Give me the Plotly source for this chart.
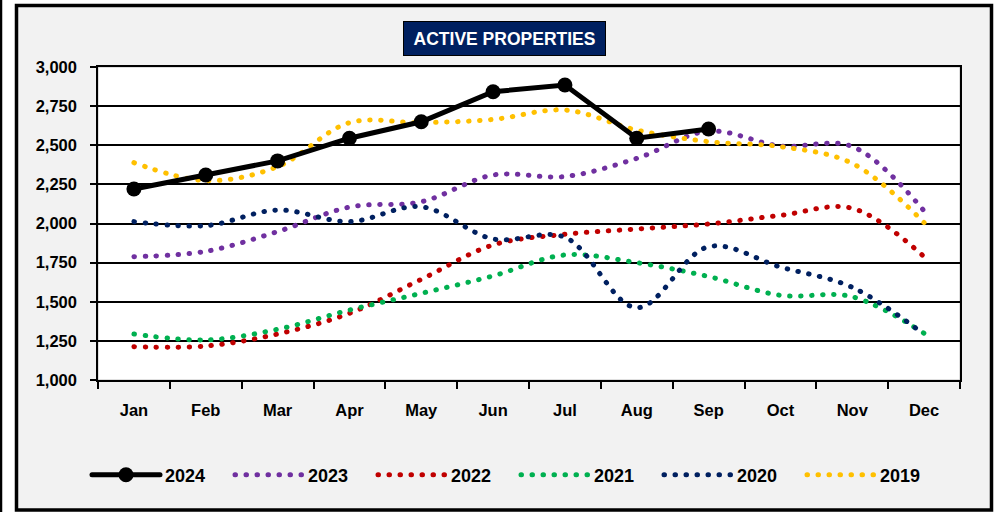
import plotly.graph_objects as go

months = ["Jan", "Feb", "Mar", "Apr", "May", "Jun", "Jul", "Aug", "Sep", "Oct", "Nov", "Dec"]
months_2024 = months[:9]

v2024 = [2220, 2310, 2400, 2545, 2650, 2842, 2885, 2545, 2604]
v2023 = [1788, 1822, 1948, 2105, 2139, 2310, 2300, 2416, 2590, 2495, 2492, 2080]
v2022 = [1213, 1217, 1294, 1426, 1643, 1863, 1931, 1965, 1997, 2052, 2097, 1788]
v2021 = [1294, 1256, 1324, 1447, 1554, 1665, 1799, 1750, 1661, 1541, 1532, 1298]
v2020 = [2012, 1986, 2086, 2012, 2107, 1901, 1912, 1462, 1852, 1722, 1592, 1292]
v2019 = [2389, 2274, 2363, 2644, 2644, 2665, 2725, 2597, 2523, 2491, 2384, 2006]

y_ticks = [1000, 1250, 1500, 1750, 2000, 2250, 2500, 2750, 3000]

W, H = 1002, 512
L, R, T, B = 98, 42, 67, 132
PW, PH = W - L - R, H - T - B


def px(x):
    return (x - L) / PW


def py(y):
    return (H - B - y) / PH


FONT = "Liberation Sans, Arial, sans-serif"
dash = "0.5px,10.5px"

fig = go.Figure()

dotted = [
    ("2023", v2023, "#7030A0", 2),
    ("2022", v2022, "#C00000", 3),
    ("2021", v2021, "#00B050", 4),
    ("2020", v2020, "#002060", 5),
    ("2019", v2019, "#FFC000", 6),
]
for name, vals, col, rank in dotted:
    fig.add_trace(go.Scatter(
        x=months, y=vals, name=name, mode="lines",
        line=dict(color=col, width=5, dash=dash, shape="spline", smoothing=1.0),
        legendrank=rank,
    ))

fig.add_trace(go.Scatter(
    x=months_2024, y=v2024, name="2024", mode="lines+markers",
    line=dict(color="black", width=5),
    marker=dict(color="black", size=15),
    legendrank=1,
))

axis_font = dict(family=FONT, size=16.5, color="black", weight="bold")

fig.update_layout(
    width=W, height=H,
    margin=dict(l=L, r=R, t=T, b=B, pad=0, autoexpand=False),
    paper_bgcolor="white",
    plot_bgcolor="white",
    showlegend=True,
    legend=dict(
        orientation="h",
        x=px(87), xanchor="left",
        y=py(475), yanchor="middle",
        font=dict(family=FONT, size=18, color="black", weight="bold"),
        bgcolor="rgba(0,0,0,0)",
        entrywidth=60, entrywidthmode="pixels",
        itemwidth=68,
    ),
    xaxis=dict(
        type="category",
        categoryorder="array", categoryarray=months,
        range=[-0.5, 11.5],
        showgrid=False,
        showline=True, linecolor="black", linewidth=1.5, mirror=True,
        ticks="outside", ticklen=7, tickcolor="black", tickwidth=1.5,
        tickson="boundaries",
        tickfont=axis_font,
        ticklabelstandoff=14,
    ),
    yaxis=dict(
        range=[1000, 3000],
        tickvals=y_ticks,
        tickformat=",",
        showgrid=True, gridcolor="black", gridwidth=1.5,
        showline=True, linecolor="black", linewidth=1.5, mirror=True,
        ticks="outside", ticklen=6, tickcolor="black", tickwidth=1.5,
        tickfont=axis_font,
        ticklabelstandoff=10,
        zeroline=False,
    ),
    shapes=[
        dict(type="rect", xref="paper", yref="paper", layer="below",
             x0=px(16.5), x1=px(991.5), y0=py(5.5), y1=py(510),
             fillcolor="#F2F2F2", line=dict(color="black", width=3.5)),
        dict(type="rect", xref="x domain", yref="y domain", layer="below",
             x0=0, x1=1, y0=0, y1=1,
             fillcolor="white", line=dict(color="#BFBFBF", width=1)),
        dict(type="line", xref="paper", yref="paper", layer="above",
             x0=px(1), x1=px(1), y0=py(0), y1=py(512),
             line=dict(color="black", width=2.5)),
    ],
    annotations=[
        dict(text="<b>ACTIVE PROPERTIES</b>", xref="paper", yref="paper",
             x=px(504.5), y=py(38.5), xanchor="center", yanchor="middle",
             showarrow=False, bgcolor="#002060", bordercolor="black",
             borderwidth=1, borderpad=0, width=201, height=33,
             font=dict(family=FONT, size=17.5, color="white")),
    ],
)

post = (
    "var s=document.createElement('style');"
    "s.textContent='.scatterlayer .js-line, .legendlines path{stroke-linecap:round !important;}';"
    "document.head.appendChild(s);"
    "document.body.style.margin='0';document.body.style.padding='0';"
)

fig.write_html("out.html", config={"displayModeBar": False}, post_script=post)
